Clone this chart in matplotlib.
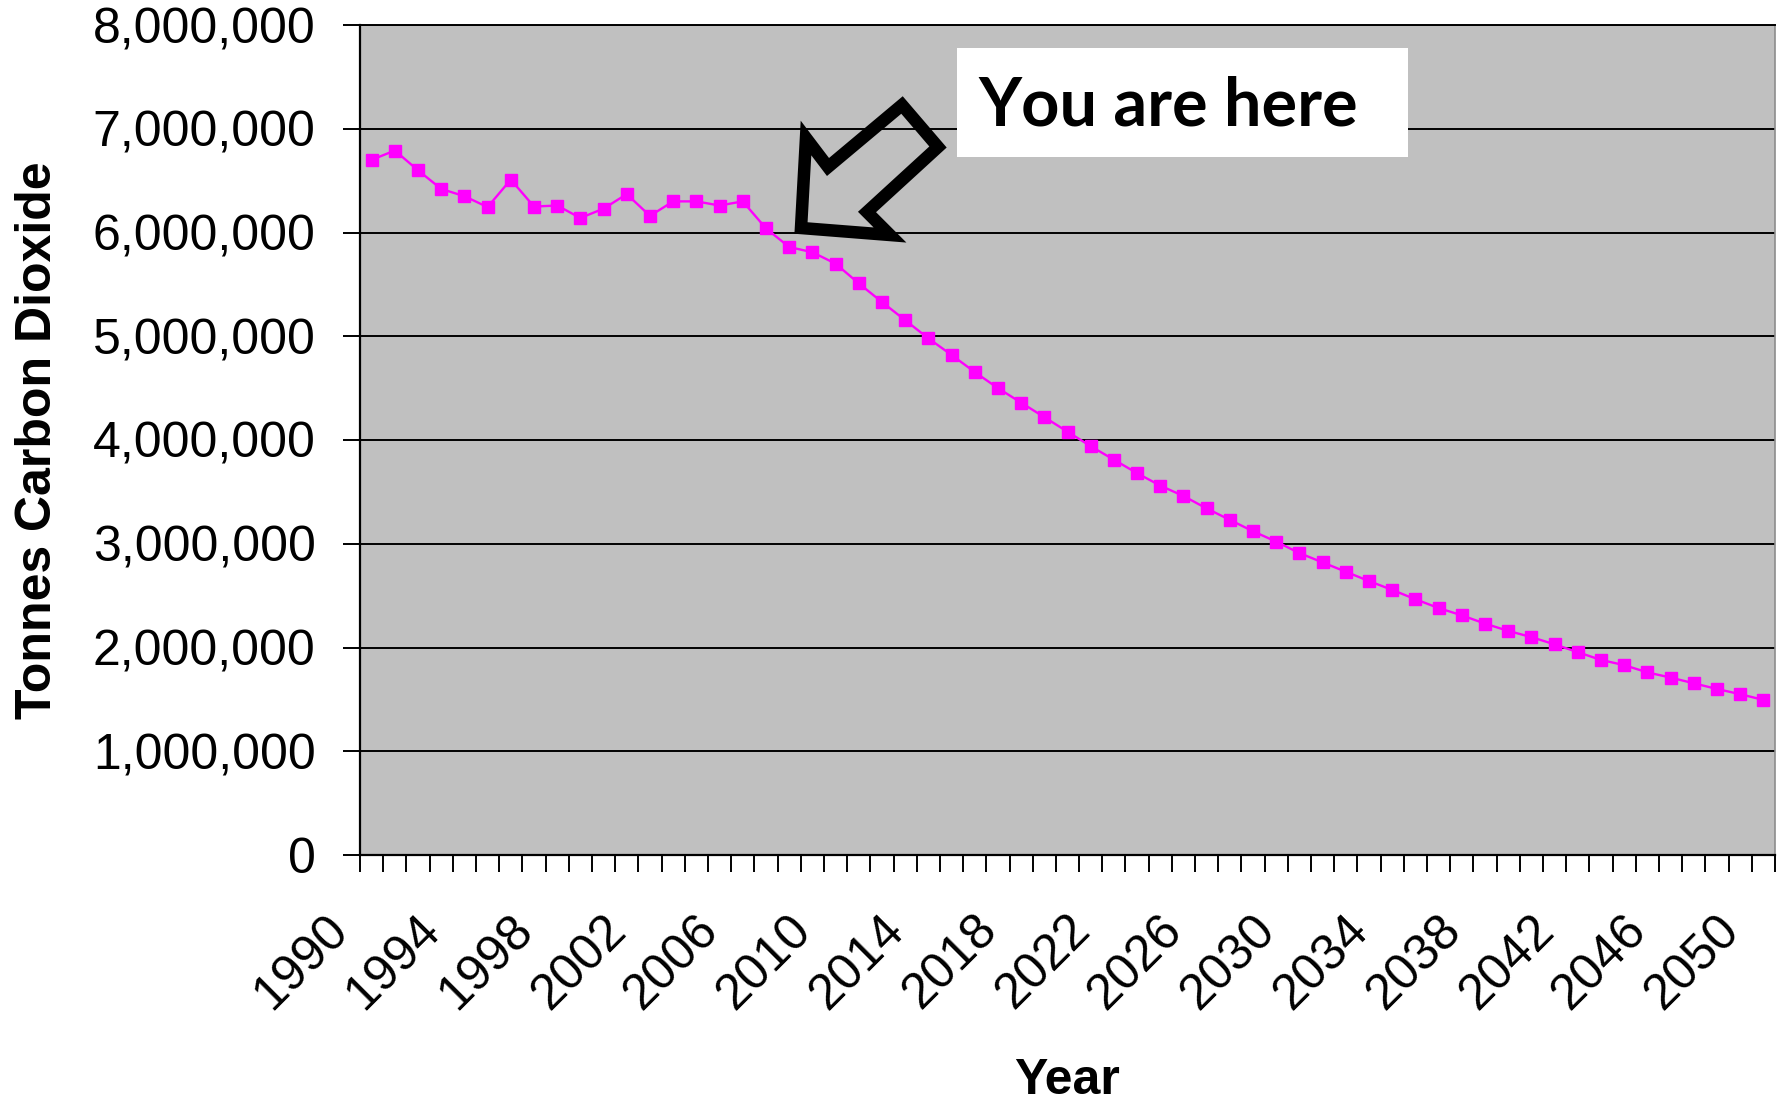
import numpy as np
import matplotlib
matplotlib.use('Agg')
import matplotlib.pyplot as plt
import matplotlib.transforms as mtransforms
from matplotlib.patches import Polygon, Rectangle
from matplotlib.ticker import FuncFormatter, FixedLocator

plt.rcParams['font.family'] = ['Liberation Sans', 'DejaVu Sans']

years = list(range(1990, 2051))
emissions = [
    6700000, 6790000, 6600000, 6420000, 6350000, 6245000, 6510000, 6250000,
    6260000, 6140000, 6230000, 6370000, 6160000, 6300000, 6300000, 6260000,
    6300000, 6040000, 5860000, 5810000, 5700000, 5510000, 5330000, 5155000,
    4980000, 4820000, 4655000, 4500000, 4360000, 4220000, 4080000, 3940000,
    3810000, 3680000, 3560000, 3460000, 3340000, 3230000, 3120000, 3020000,
    2910000, 2820000, 2730000, 2640000, 2555000, 2465000, 2380000, 2310000,
    2230000, 2160000, 2100000, 2030000, 1955000, 1880000, 1830000, 1760000,
    1710000, 1655000, 1600000, 1550000, 1495000,
]
label_years = list(range(1990, 2051, 4))
y_ticks = list(range(0, 8000001, 1000000))

W, H = 1785, 1108
fig = plt.figure(figsize=(W / 100, H / 100), dpi=100)
ax = fig.add_axes([360 / W, 1 - 855 / H, (1775 - 360) / W, (855 - 25) / H])
ax.set_facecolor('#c0c0c0')

ax.plot(years, emissions, color='#ff00ff', lw=1.7, marker='s', ms=8.5,
        mec='#ff00ff', mfc='#ff00ff', zorder=3)

ax.set_xlim(years[0] - 0.5, years[-1] + 0.5)
ax.set_ylim(0, 8000000)

# y axis
ax.set_yticks(y_ticks)
ax.yaxis.set_major_formatter(FuncFormatter(lambda v, p: f'{int(v):,}'))
ax.tick_params(axis='y', length=12, width=1.4, pad=20, labelsize=36, color='black')
ax.grid(axis='y', color='black', lw=1.4)
ax.set_axisbelow(True)

# x axis: tick marks between categories, labels every 4 years
ax.xaxis.set_minor_locator(FixedLocator(np.arange(years[0] - 0.5, years[-1] + 1)))
ax.set_xticks(label_years)
ax.set_xticklabels([str(y) for y in label_years], rotation=45, ha='right', va='top')
ax.tick_params(axis='x', which='major', length=0, pad=37, labelsize=36)
ax.tick_params(axis='x', which='minor', length=12, width=1.4, color='black')
shift = mtransforms.ScaledTranslation(-15 / 100, 0, fig.dpi_scale_trans)
for lab in ax.get_xticklabels():
    lab.set_transform(lab.get_transform() + shift)

for side in ['left', 'bottom']:
    ax.spines[side].set_color('black')
    ax.spines[side].set_linewidth(1.6)
ax.spines['top'].set_color('black')
ax.spines['top'].set_linewidth(1.4)
ax.spines['right'].set_color('#8c8c8c')
ax.spines['right'].set_linewidth(1.2)

ax.set_ylabel('Tonnes Carbon Dioxide', fontsize=36, fontweight='bold')
ax.set_xlabel('Year', fontsize=36, fontweight='bold', va='top')
ax.yaxis.set_label_coords(61 / W, 0.5 * (1 - 855 / H) + 0.5 * (1 - 25 / H),
                          transform=fig.transFigure)
ax.xaxis.set_label_coords(0.5 * (360 + 1775) / W, 1 - 1058 / H,
                          transform=fig.transFigure)

# "You are here" call-out (figure pixel coordinates)
def px(x, y):
    return (x / W, 1 - y / H)

arrow_pts = [(801, 228), (806, 138), (828, 167), (902, 105), (938, 147), (867, 212), (890, 235)]
fig.patches.append(Polygon([px(*p) for p in arrow_pts], closed=True, fill=False,
                           edgecolor='black', lw=9, joinstyle='miter',
                           transform=fig.transFigure, figure=fig, zorder=5))
fig.patches.append(Rectangle(px(957, 157), (1408 - 957) / W, (157 - 48) / H,
                             facecolor='white', edgecolor='none',
                             transform=fig.transFigure, figure=fig, zorder=5))
fig.text(978 / W, 1 - 107 / H, 'You are here', fontsize=48, fontweight='bold',
         family=['Lato', 'DejaVu Sans'], ha='left', va='center', zorder=6)

fig.savefig('out.png', dpi=100)
